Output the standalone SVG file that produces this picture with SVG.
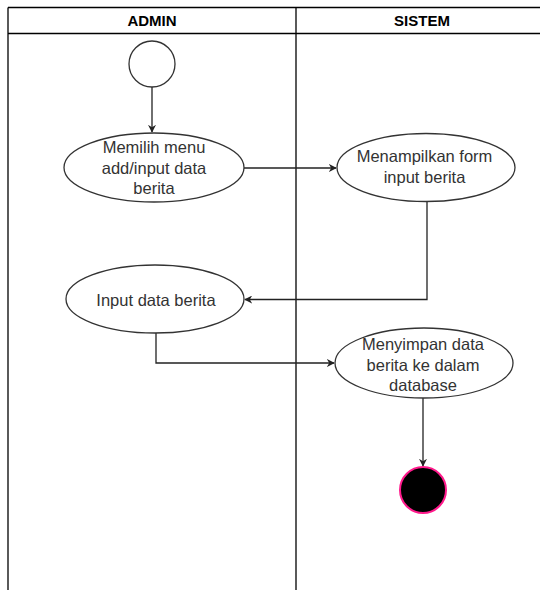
<svg xmlns="http://www.w3.org/2000/svg" width="540" height="590" viewBox="0 0 540 590">
<style>
.lane{fill:none;stroke:#000;stroke-width:1.3}
.hdr{font-family:"Liberation Sans",Arial,sans-serif;font-weight:bold;font-size:15px;fill:#000;text-anchor:middle}
.act{fill:#fff;stroke:#333;stroke-width:1.3}
.lbl{font-family:"Liberation Sans",Arial,sans-serif;font-size:16.5px;fill:#333;text-anchor:middle}
.edge{fill:none;stroke:#222;stroke-width:1.3}
</style>
<defs>
<marker id="arr" viewBox="0 0 10 10" refX="9" refY="5" markerWidth="8" markerHeight="8" markerUnits="userSpaceOnUse" orient="auto">
<path d="M0,0 L10,5 L0,10 L3,5 Z" fill="#222"/>
</marker>
</defs>
<rect width="540" height="590" fill="#fff"/>
<g id="lanes">
<line class="lane" x1="8" y1="7.5" x2="548" y2="7.5"/>
<line class="lane" x1="8" y1="33.5" x2="548" y2="33.5"/>
<line class="lane" x1="8" y1="7.5" x2="8" y2="595"/>
<line class="lane" x1="296" y1="7.5" x2="296" y2="595"/>
<text class="hdr" x="152" y="26">ADMIN</text>
<text class="hdr" x="422" y="26">SISTEM</text>
</g>
<g id="connectors">
<line class="edge" x1="152" y1="87" x2="152" y2="132" marker-end="url(#arr)"/>
<line class="edge" x1="244" y1="168" x2="336" y2="168" marker-end="url(#arr)"/>
<polyline class="edge" points="427,202 427,299.5 245,299.5" marker-end="url(#arr)"/>
<polyline class="edge" points="156,333 156,363 334,363" marker-end="url(#arr)"/>
<line class="edge" x1="423" y1="398" x2="423" y2="466" marker-end="url(#arr)"/>
</g>
<g id="start">
<circle cx="152" cy="64" r="23" fill="#fff" stroke="#333" stroke-width="1.3"/>
</g>
<g id="n1">
<ellipse class="act" cx="154" cy="167.5" rx="90" ry="34.5"/>
<text class="lbl" x="154" y="153">Memilih menu</text>
<text class="lbl" x="154" y="173.5">add/input data</text>
<text class="lbl" x="154" y="194">berita</text>
</g>
<g id="n2">
<ellipse class="act" cx="426" cy="167.5" rx="89" ry="34"/>
<text class="lbl" x="424.5" y="161.5">Menampilkan form</text>
<text class="lbl" x="424.5" y="182.5">input berita</text>
</g>
<g id="n3">
<ellipse class="act" cx="155" cy="299" rx="89" ry="34"/>
<text class="lbl" x="156" y="306">Input data berita</text>
</g>
<g id="n4">
<ellipse class="act" cx="424" cy="363" rx="89" ry="35"/>
<text class="lbl" x="423" y="350">Menyimpan data</text>
<text class="lbl" x="423" y="370.5">berita ke dalam</text>
<text class="lbl" x="423" y="391">database</text>
</g>
<g id="end">
<circle cx="423" cy="490" r="23" fill="#000" stroke="#ff1a8c" stroke-width="2"/>
</g>
</svg>
